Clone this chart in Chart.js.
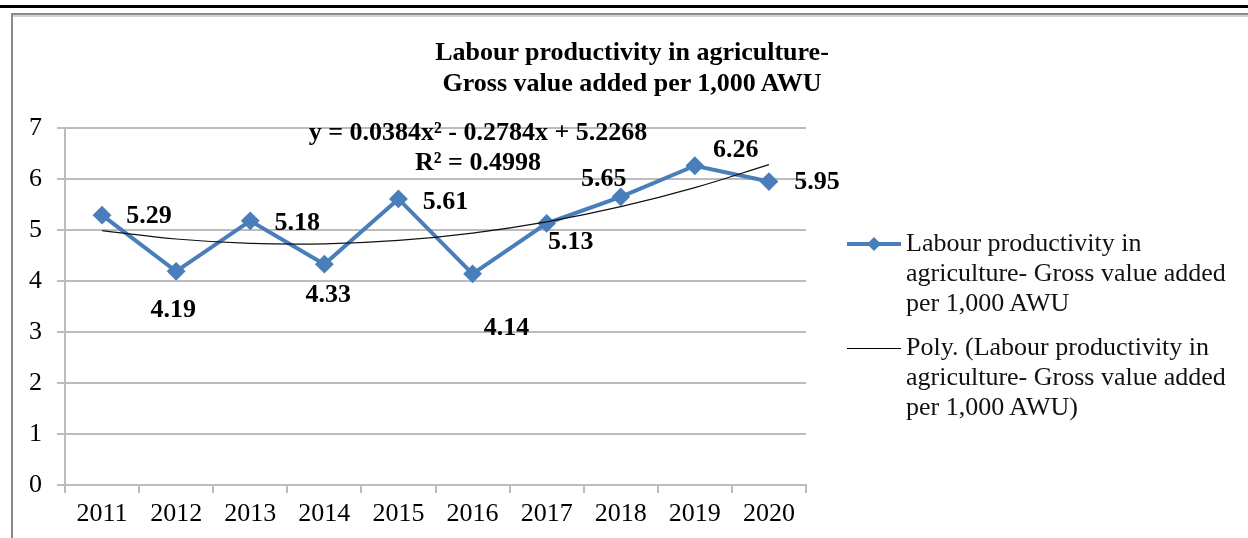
<!DOCTYPE html>
<html>
<head>
<meta charset="utf-8">
<script src="https://cdn.jsdelivr.net/npm/chart.js@4/dist/chart.umd.min.js"></script>
<style>
  html, body { margin: 0; padding: 0; background: #fff; }
  body { width: 1248px; height: 538px; position: relative; overflow: hidden; font-family: "Liberation Serif", serif; }
  .topline { position: absolute; left: 0; top: 5px; width: 1248px; height: 3px; background: #000; }
  .frame { position: absolute; left: 11px; top: 13px; width: 1400px; height: 700px;
           border-left: 2px solid #8a8a8a; border-top: 2px solid #8a8a8a; }
  .frame-shade { position: absolute; left: 13px; top: 15px; width: 1400px; height: 2px; background: #d4d4d4; }
  #chart { position: absolute; left: 0; top: 0; }
  .txt { position: absolute; color: #000; white-space: nowrap; font-weight: bold; font-size: 26px; text-align: center; }
  .legend { position: absolute; left: 847px; font-size: 26px; line-height: 30px; color: #111; }
  .legend .item { position: relative; padding-left: 59px; }
  .legend .sym { position: absolute; left: 0; top: 14px; width: 54px; }
</style>
</head>
<body>
<div class="topline"></div>
<div class="frame"></div>
<div class="frame-shade"></div>
<canvas id="chart" width="1248" height="538"></canvas>

<div class="txt" style="left:432px; top:36px; width:400px; line-height:31px;">Labour productivity in agriculture-<br>Gross value added per 1,000 AWU</div>
<div class="txt" style="left:278px; top:117px; width:400px; line-height:30px;">y = 0.0384x² - 0.2784x + 5.2268<br>R² = 0.4998</div>

<div class="legend" style="top:228px;">
  <div class="item">
    <svg class="sym" height="6" style="overflow:visible">
      <line x1="0" y1="2" x2="54" y2="2" stroke="#4a7ebb" stroke-width="4"/>
      <path d="M27 -5 L34 2 L27 9 L20 2 Z" fill="#4a7ebb"/>
    </svg>
    Labour productivity in<br>agriculture- Gross value added<br>per 1,000 AWU
  </div>
  <div class="item" style="margin-top:14px;">
    <svg class="sym" height="4" style="overflow:visible">
      <line x1="0" y1="2.5" x2="54" y2="2.5" stroke="#000" stroke-width="1"/>
    </svg>
    Poly. (Labour productivity in<br>agriculture- Gross value added<br>per 1,000 AWU)
  </div>
</div>

<script>
// data
var years = ['2011', '2012', '2013', '2014', '2015', '2016', '2017', '2018', '2019', '2020'];
var productivity = [5.29, 4.19, 5.18, 4.33, 5.61, 4.14, 5.13, 5.65, 6.26, 5.95];
var yTicks = [0, 1, 2, 3, 4, 5, 6, 7];
// trendline equation printed on the chart: y = a x^2 + b x + c
var trendCoef = [0.0384, -0.2784, 5.2268];

// where each value label sits relative to its marker (dx, dy)
var labelOffsets = [[47, 1], [-3, 39], [47, 2], [4, 31], [47, 3],
                    [34, 54], [24, 19], [-17, -18], [41, -15], [48, 1]];

var trend = years.map(function (y, i) {
  var x = i + 1;
  return trendCoef[0] * x * x + trendCoef[1] * x + trendCoef[2];
});

var blue = '#4a7ebb';
var gridGrey = '#bcbcbc';

// value labels drawn next to the markers
var valueLabels = {
  id: 'valueLabels',
  afterDatasetsDraw: function (chart) {
    var meta = chart.getDatasetMeta(0);
    var ctx = chart.ctx;
    ctx.save();
    ctx.font = 'bold 26px "Liberation Serif"';
    ctx.fillStyle = '#000';
    ctx.textAlign = 'center';
    ctx.textBaseline = 'middle';
    meta.data.forEach(function (pt, i) {
      var off = labelOffsets[i];
      ctx.fillText(productivity[i].toFixed(2), pt.x + off[0], pt.y + off[1]);
    });
    ctx.restore();
  }
};

var ctx = document.getElementById('chart').getContext('2d');

var chart = new Chart(ctx, {
  type: 'line',
  data: {
    labels: years,
    datasets: [{
      label: 'Labour productivity in agriculture- Gross value added per 1,000 AWU',
      data: productivity,
      borderColor: blue,
      backgroundColor: blue,
      borderWidth: 4,
      pointStyle: 'rectRot',
      pointRadius: 8,
      pointBorderWidth: 2,
      pointBackgroundColor: blue,
      pointBorderColor: blue,
      tension: 0,
      order: 1
    }, {
      label: 'Poly. (Labour productivity in agriculture- Gross value added per 1,000 AWU)',
      data: trend,
      borderColor: '#111',
      borderWidth: 1.2,
      pointRadius: 0,
      tension: 0.4,
      order: 0
    }]
  },
  options: {
    responsive: false,
    animation: false,
    devicePixelRatio: 1,
    layout: { padding: { left: 0, right: 442, top: 128, bottom: 0 } },
    plugins: {
      legend: { display: false },
      title: { display: false },
      tooltip: { enabled: false }
    },
    scales: {
      x: {
        offset: true,
        afterFit: function (scale) { scale.height = 53; },
        grid: { offset: true, drawOnChartArea: false, drawTicks: true, tickLength: 8, color: gridGrey, lineWidth: 2 },
        border: { display: true, color: gridGrey, width: 2 },
        ticks: { color: '#000', padding: 6, maxRotation: 0, font: { family: 'Liberation Serif', size: 26 } }
      },
      y: {
        min: 0,
        max: 7,
        afterFit: function (scale) { scale.width = 65; },
        afterBuildTicks: function (scale) {
          scale.ticks = yTicks.map(function (v) { return { value: v }; });
        },
        grid: { color: gridGrey, lineWidth: 2, tickLength: 8 },
        border: { display: true, color: gridGrey, width: 2 },
        ticks: { color: '#000', padding: 15, font: { family: 'Liberation Serif', size: 26 } }
      }
    }
  },
  plugins: [valueLabels]
});
</script>
</body>
</html>
